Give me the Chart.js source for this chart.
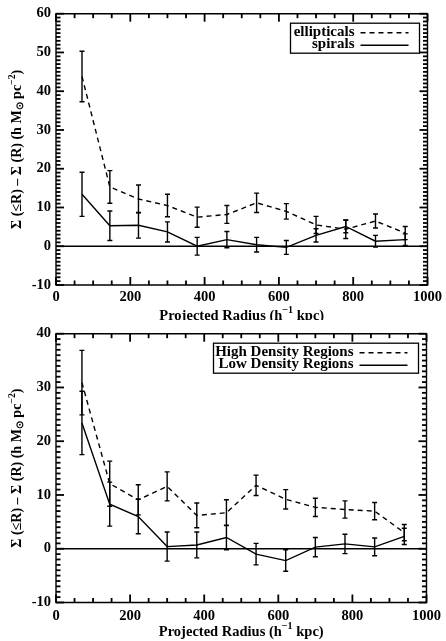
<!DOCTYPE html>
<html>
<head>
<meta charset="utf-8">
<script src="https://cdn.jsdelivr.net/npm/chart.js@4/dist/chart.umd.min.js"></script>
<style>
  html, body { margin: 0; padding: 0; background: #fff; }
  #wrap { position: relative; width: 446px; height: 641px; }
  canvas { position: absolute; left: 0; }
</style>
</head>
<body>
<div id="wrap">
  <canvas id="morphology" width="446" height="320" style="top:0"></canvas>
  <canvas id="density" width="446" height="321" style="top:320px"></canvas>
</div>
<script>
// Bin centres of projected radius (h^-1 kpc)
const radius = [70, 145, 222, 300, 380, 460, 540, 620, 700, 780, 860, 940];

// Upper panel: galaxy morphology
const ellipticals    = [43.8, 15.3, 12.2, 10.5, 7.5, 8.2, 11.2, 9.0, 5.5, 4.4, 6.5, 3.4];
const ellipticalsErr = [6.5, 4.2, 3.6, 2.9, 2.6, 2.3, 2.5, 2.0, 2.2, 2.4, 1.8, 1.7];
const spirals        = [13.4, 5.3, 5.4, 3.7, 0.0, 1.7, 0.4, -0.3, 2.8, 5.1, 1.3, 1.7];
const spiralsErr     = [5.7, 3.8, 3.3, 2.6, 2.3, 2.1, 1.9, 1.8, 1.7, 1.6, 1.5, 1.5];

// Lower panel: local environment
const highDensity    = [30.9, 12.1, 9.1, 11.6, 6.2, 6.7, 11.8, 9.2, 7.7, 7.3, 7.0, 3.0];
const highDensityErr = [6.0, 4.2, 2.8, 2.7, 2.3, 2.4, 1.9, 1.8, 1.7, 1.6, 1.6, 1.5];
const lowDensity     = [23.4, 8.3, 6.0, 0.4, 0.7, 2.1, -1.0, -2.2, 0.3, 0.9, 0.35, 2.3];
const lowDensityErr  = [5.9, 4.1, 3.2, 2.7, 2.4, 2.3, 2.0, 2.0, 1.8, 1.8, 1.65, 1.5];

// Axis ranges and tick spacing
const xRange = [0, 1000];
const xMajor = 200, xMinor = 50;
const yRangeTop = [-10, 60];
const yRangeBottom = [-10, 40];
const yMajor = 10, yMinor = 1;

const SERIF = "'Liberation Serif', 'Times New Roman', Times, serif";

// Draw a run of text pieces, some raised (sup) or lowered (sub), centred at (cx, cy)
function richWidth(ctx, parts, size) {
  let w = 0;
  for (const p of parts) {
    ctx.font = 'bold ' + (p.sup || p.sub ? size * 0.7 : size) + 'px ' + SERIF;
    w += ctx.measureText(p.t).width;
  }
  return w;
}
function drawRich(ctx, parts, cx, cy, size, rotate) {
  ctx.save();
  ctx.translate(cx, cy);
  if (rotate) ctx.rotate(-Math.PI / 2);
  ctx.fillStyle = '#000';
  ctx.textBaseline = 'middle';
  ctx.textAlign = 'left';
  let x = -richWidth(ctx, parts, size) / 2;
  for (const p of parts) {
    const s = p.sup || p.sub ? size * 0.7 : size;
    ctx.font = 'bold ' + s + 'px ' + SERIF;
    const dy = p.sup ? -size * 0.38 : (p.sub ? size * 0.22 : 0);
    ctx.fillText(p.t, x, dy);
    x += ctx.measureText(p.t).width;
  }
  ctx.restore();
}

const xTitle = [{t: 'Projected Radius (h'}, {t: '\u22121', sup: true}, {t: ' kpc)'}];
const yTitle = [{t: '\u03A3 (\u2264R) \u2013 \u03A3 (R) (h M'}, {t: '\u2299', sub: true},
                {t: ' pc'}, {t: '\u22122', sup: true}, {t: ')'}];

// Frame, inward major/minor ticks on all four sides and the zero line
const framePlugin = {
  id: 'frame',
  afterDatasetsDraw(chart) {
    const ctx = chart.ctx;
    const a = chart.chartArea;
    const xs = chart.scales.x, ys = chart.scales.y;
    const yLo = chart.options.scales.y.min, yHi = chart.options.scales.y.max;
    ctx.save();
    ctx.strokeStyle = '#000';
    ctx.setLineDash([]);
    ctx.lineWidth = 1.4;
    const y0 = ys.getPixelForValue(0);
    ctx.beginPath();
    ctx.moveTo(a.left, y0); ctx.lineTo(a.right, y0);
    ctx.rect(a.left, a.top, a.right - a.left, a.bottom - a.top);
    ctx.stroke();

    // tick marks as thin filled bars pointing into the plot
    ctx.fillStyle = '#000';
    const tw = 1.8;
    const nx = Math.round((xRange[1] - xRange[0]) / xMinor);
    for (let k = 0; k <= nx; k++) {
      const v = xRange[0] + k * xMinor;
      const len = (v % xMajor === 0) ? 8 : 4.5;
      const px = xs.getPixelForValue(v);
      ctx.fillRect(px - tw / 2, a.bottom - len, tw, len);
      ctx.fillRect(px - tw / 2, a.top, tw, len);
    }
    const ny = Math.round((yHi - yLo) / yMinor);
    for (let k = 0; k <= ny; k++) {
      const v = yLo + k * yMinor;
      const len = (Math.abs(v) % yMajor === 0) ? 8 : 4.5;
      const py = ys.getPixelForValue(v);
      ctx.fillRect(a.left, py - tw / 2, len, tw);
      ctx.fillRect(a.right - len, py - tw / 2, len, tw);
    }
    ctx.restore();
  }
};

// Vertical error bars with short caps, read from each dataset's errors list
const errorBarPlugin = {
  id: 'errorBars',
  afterDatasetsDraw(chart) {
    const {ctx, scales: {x, y}} = chart;
    ctx.save();
    ctx.strokeStyle = '#000';
    ctx.lineWidth = 1.4;
    chart.data.datasets.forEach(ds => {
      if (!ds.errors) return;
      ds.data.forEach((pt, i) => {
        const e = ds.errors[i];
        const px = x.getPixelForValue(pt.x);
        const pTop = y.getPixelForValue(pt.y + e);
        const pBot = y.getPixelForValue(pt.y - e);
        ctx.beginPath();
        ctx.moveTo(px, pTop); ctx.lineTo(px, pBot);
        ctx.moveTo(px - 2.5, pTop); ctx.lineTo(px + 2.5, pTop);
        ctx.moveTo(px - 2.5, pBot); ctx.lineTo(px + 2.5, pBot);
        ctx.stroke();
      });
    });
    ctx.restore();
  }
};

// Boxed key in the upper right: right-aligned label followed by a line sample
const keyPlugin = {
  id: 'boxKey',
  afterDraw(chart, args, opts) {
    const {ctx, chartArea: a} = chart;
    const right = a.right - 8;
    const top = a.top + 9.5;
    const w = opts.width, rowH = 12.5;
    const h = 30;
    ctx.save();
    ctx.fillStyle = '#fff';
    ctx.fillRect(right - w, top, w, h);
    ctx.strokeStyle = '#000';
    ctx.lineWidth = 1.3;
    ctx.strokeRect(right - w, top, w, h);
    ctx.font = 'bold 15px ' + SERIF;
    ctx.textAlign = 'right';
    ctx.textBaseline = 'middle';
    ctx.fillStyle = '#000';
    chart.data.datasets.forEach((ds, i) => {
      const cy = top + 8.5 + rowH * i;
      ctx.fillText(ds.label, right - 65, cy);
      ctx.setLineDash(ds.borderDash || []);
      ctx.lineWidth = 1.4;
      ctx.beginPath();
      ctx.moveTo(right - 59, cy + 1);
      ctx.lineTo(right - 11, cy + 1);
      ctx.stroke();
    });
    ctx.restore();
  }
};

// Axis titles
const titlePlugin = {
  id: 'axisTitles',
  afterDraw(chart, args, opts) {
    const {ctx, chartArea: a} = chart;
    drawRich(ctx, xTitle, (a.left + a.right) / 2, a.bottom + opts.xGap, 14.5, false);
    drawRich(ctx, yTitle, 17.5, (a.top + a.bottom) / 2, 14, true);
  }
};

function series(label, values, errors, dashed) {
  return {
    label: label,
    data: radius.map((r, i) => ({x: r, y: values[i]})),
    errors: errors,
    borderColor: '#000',
    borderWidth: 1.4,
    borderDash: dashed ? [5, 4] : [],
    pointRadius: 0,
    tension: 0,
    fill: false
  };
}

function panel(id, datasets, yRange, geom) {
  return new Chart(document.getElementById(id), {
    type: 'line',
    data: {datasets: datasets},
    plugins: [errorBarPlugin, framePlugin, keyPlugin, titlePlugin],
    options: {
      responsive: false,
      animation: false,
      devicePixelRatio: 1,
      layout: {padding: {top: geom.top, right: geom.right, left: 0, bottom: 0}},
      plugins: {
        legend: {display: false},
        tooltip: {enabled: false},
        boxKey: {width: geom.keyWidth},
        axisTitles: {xGap: geom.xGap}
      },
      scales: {
        x: {
          type: 'linear',
          min: xRange[0], max: xRange[1],
          grid: {display: false, drawTicks: false},
          border: {display: false},
          ticks: {stepSize: xMajor, padding: geom.xPad, color: '#000',
                  font: {family: SERIF, size: 14.5, weight: 'bold'}, maxRotation: 0,
                  callback: v => String(v)},
          afterFit: s => { s.height = geom.xHeight; }
        },
        y: {
          type: 'linear',
          min: yRange[0], max: yRange[1],
          grid: {display: false, drawTicks: false},
          border: {display: false},
          ticks: {stepSize: yMajor, padding: 5, color: '#000',
                  font: {family: SERIF, size: 14.5, weight: 'bold'},
                  callback: v => String(v)},
          afterFit: s => { s.width = 56; }
        }
      }
    }
  });
}

panel('morphology', [
  series('ellipticals', ellipticals, ellipticalsErr, true),
  series('spirals', spirals, spiralsErr, false)
], yRangeTop, {top: 13.5, right: 15, xHeight: 35, xPad: 4, xGap: 31, keyWidth: 129});

panel('density', [
  series('High Density Regions', highDensity, highDensityErr, true),
  series('Low Density Regions', lowDensity, lowDensityErr, false)
], yRangeBottom, {top: 11.5, right: 15, xHeight: 38.5, xPad: 5, xGap: 29.5, keyWidth: 205});
</script>
</body>
</html>
